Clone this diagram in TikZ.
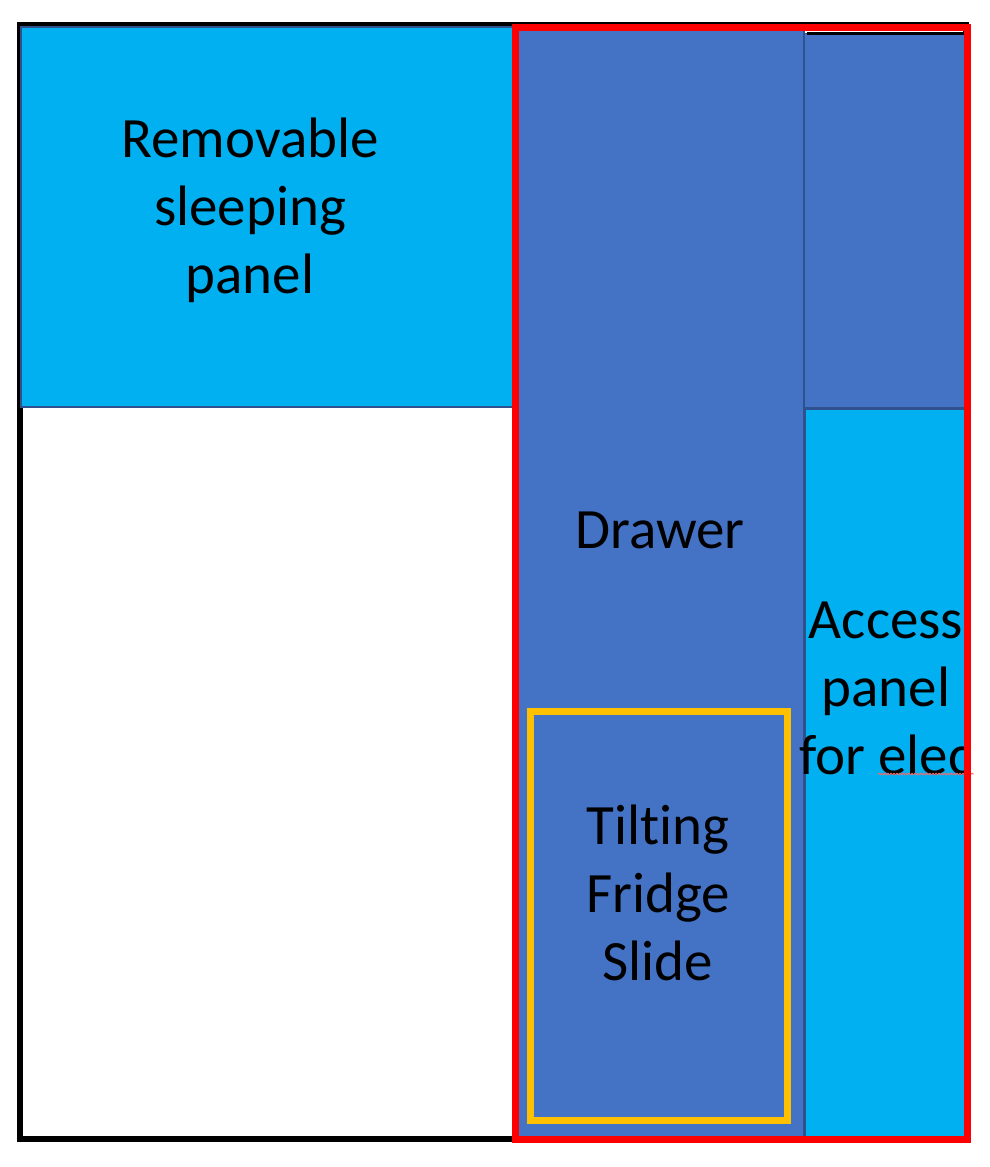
\documentclass[tikz,border=0pt]{standalone}
\usepackage{fontspec}
\setmainfont{Carlito}[Ligatures=NoCommon]
\usetikzlibrary{decorations.pathmorphing}
\definecolor{lightpanel}{HTML}{00B0F0}
\definecolor{darkpanel}{HTML}{4472C4}
\definecolor{panelline}{HTML}{2F528F}
\definecolor{fridgeline}{HTML}{FFC000}
\begin{document}
\begin{tikzpicture}[x=1pt,y=-1pt,
  label/.style={align=center,inner sep=0pt,font=\fontsize{57}{68}\selectfont}]
\useasboundingbox (0,0) rectangle (990,1167);

\path[draw,line width=6pt] (19.5,25) rectangle (966,1139);
\path[fill=lightpanel,draw=panelline,line width=2pt] (21,27) rectangle (515,407);
\path[fill=darkpanel,draw=panelline,line width=1.5pt] (515,28) rectangle (804,1139);
\path[fill=darkpanel,draw=panelline,line width=1pt] (804,33) rectangle (966,407);
\path[draw,line width=3pt] (807,33.5) -- (966,33.5);
\path[fill=lightpanel,draw=panelline,line width=3pt] (804.5,408.5) rectangle (965,1139.5);
\path[draw=fridgeline,line width=7pt] (530.5,711.5) rectangle (787.5,1120);

\node[label] (sleeping) at (250,210) {Removable\\sleeping\\panel};
\node[label] (drawer) at (660,530) {Drawer};
\node[label] (access) at (886,688) {Access\\panel\\for elec};
\node[label] (fridge) at (658,893) {Tilting\\Fridge\\Slide};

\path[draw=red!60,line width=0.8pt,decorate,decoration={snake,amplitude=0.8pt,segment length=3pt}] (878,774) -- (974,774);
\path[draw=red,line width=7pt] (515.5,27.5) rectangle (967.5,1139.5);
\end{tikzpicture}
\end{document}
